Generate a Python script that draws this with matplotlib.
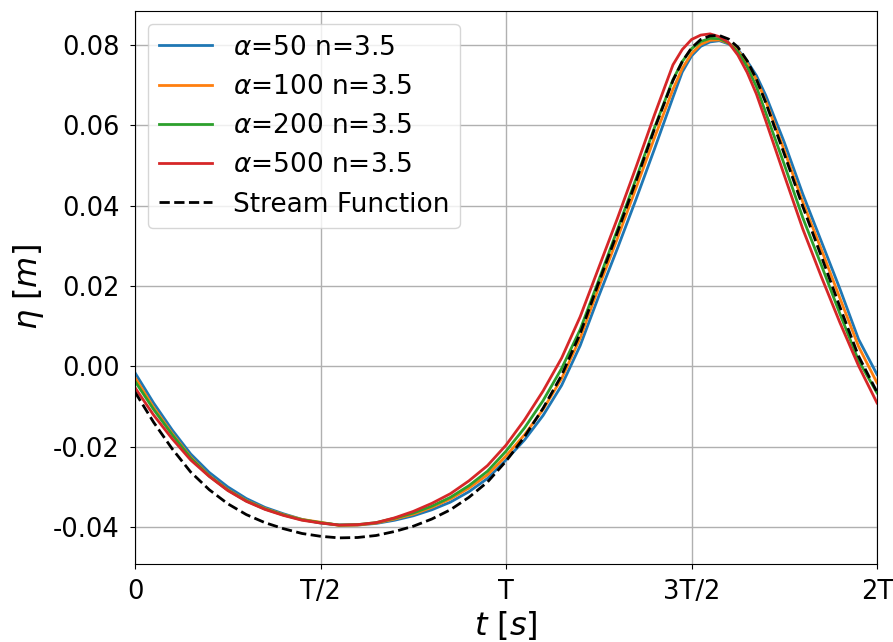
import matplotlib
matplotlib.use("Agg")
import matplotlib.pyplot as plt

plt.rcParams['axes.unicode_minus'] = False

t = [0.00, 0.05, 0.10, 0.15, 0.20, 0.25, 0.30, 0.35, 0.40, 0.45,
     0.50, 0.55, 0.60, 0.65, 0.70, 0.75, 0.80, 0.85, 0.90, 0.95,
     1.00, 1.05, 1.10, 1.15, 1.20, 1.25, 1.30, 1.35, 1.40, 1.45,
     1.475, 1.50, 1.525, 1.55, 1.575, 1.60, 1.625, 1.65, 1.675, 1.70,
     1.75, 1.80, 1.85, 1.90, 1.95, 2.00]

eta_a50 = [-0.0016, -0.0091, -0.0158, -0.0218, -0.0264, -0.0300, -0.0329, -0.0351, -0.0367, -0.0381,
           -0.0390, -0.0395, -0.0395, -0.0391, -0.0383, -0.0372, -0.0357, -0.0338, -0.0312, -0.0279,
           -0.0233, -0.0183, -0.0122, -0.0047, 0.0052, 0.0175, 0.0293, 0.0415, 0.0541, 0.0670,
           0.0733, 0.0773, 0.0797, 0.0808, 0.0811, 0.0803, 0.0789, 0.0760, 0.0724, 0.0675,
           0.0558, 0.0429, 0.0311, 0.0193, 0.0068, -0.0020]

eta_a100 = [-0.0028, -0.0102, -0.0167, -0.0226, -0.0272, -0.0307, -0.0334, -0.0354, -0.0369, -0.0381,
            -0.0388, -0.0396, -0.0395, -0.0390, -0.0380, -0.0368, -0.0351, -0.0330, -0.0303, -0.0270,
            -0.0223, -0.0170, -0.0107, -0.0030, 0.0071, 0.0197, 0.0318, 0.0443, 0.0569, 0.0690,
            0.0742, 0.0779, 0.0802, 0.0812, 0.0813, 0.0805, 0.0787, 0.0754, 0.0714, 0.0661,
            0.0538, 0.0409, 0.0291, 0.0170, 0.0050, -0.0041]

eta_a200 = [-0.0037, -0.0107, -0.0170, -0.0228, -0.0273, -0.0308, -0.0335, -0.0355, -0.0370, -0.0382,
            -0.0389, -0.0395, -0.0394, -0.0389, -0.0378, -0.0365, -0.0348, -0.0326, -0.0297, -0.0261,
            -0.0211, -0.0153, -0.0085, -0.0005, 0.0092, 0.0215, 0.0340, 0.0466, 0.0594, 0.0714,
            0.0759, 0.0791, 0.0809, 0.0817, 0.0816, 0.0805, 0.0783, 0.0746, 0.0696, 0.0632,
            0.0503, 0.0370, 0.0252, 0.0131, 0.0015, -0.0066]

eta_a500 = [-0.0053, -0.0121, -0.0180, -0.0233, -0.0274, -0.0309, -0.0336, -0.0356, -0.0371, -0.0383,
            -0.0390, -0.0395, -0.0394, -0.0389, -0.0377, -0.0361, -0.0341, -0.0317, -0.0285, -0.0247,
            -0.0196, -0.0133, -0.0061, 0.0021, 0.0124, 0.0246, 0.0368, 0.0495, 0.0626, 0.0751,
            0.0789, 0.0814, 0.0825, 0.0828, 0.0821, 0.0806, 0.0775, 0.0732, 0.0678, 0.0612,
            0.0476, 0.0342, 0.0223, 0.0109, 0.0002, -0.0091]

eta_stream = [-0.0064, -0.0139, -0.0205, -0.0263, -0.0307, -0.0342, -0.0369, -0.0389, -0.0404, -0.0416,
              -0.0423, -0.0427, -0.0426, -0.0421, -0.0411, -0.0398, -0.0380, -0.0357, -0.0326, -0.0288,
              -0.0236, -0.0175, -0.0104, -0.0022, 0.0082, 0.0209, 0.0333, 0.0460, 0.0591, 0.0712,
              0.0759, 0.0793, 0.0814, 0.0823, 0.0824, 0.0815, 0.0795, 0.0761, 0.0715, 0.0657,
              0.0529, 0.0398, 0.0274, 0.0148, 0.0026, -0.0064]

series = [
    (eta_a50, r'$\alpha$=50 n=3.5', '#1f77b4'),
    (eta_a100, r'$\alpha$=100 n=3.5', '#ff7f0e'),
    (eta_a200, r'$\alpha$=200 n=3.5', '#2ca02c'),
    (eta_a500, r'$\alpha$=500 n=3.5', '#d62728'),
]

xticks = [0, 0.5, 1.0, 1.5, 2.0]
xticklabels = ['0', 'T/2', 'T', '3T/2', '2T']
yticks = [-0.04, -0.02, 0.00, 0.02, 0.04, 0.06, 0.08]

fig = plt.figure(figsize=(8.93, 6.42), dpi=100)
ax = fig.add_axes([0.1512, 0.1215, 0.8309, 0.8614])

for vals, lab, col in series:
    ax.plot(t, vals, color=col, lw=2, label=lab)
ax.plot(t, eta_stream, color='black', lw=2, ls='--', label='Stream Function')

ax.set_xlim(0, 2)
ax.set_ylim(-0.0492, 0.0885)
ax.set_xticks(xticks)
ax.set_xticklabels(xticklabels)
ax.set_yticks(yticks)
ax.set_yticklabels(['%.2f' % v for v in yticks])
ax.tick_params(labelsize=18.5, pad=7.5)
ax.grid(True, color='#b0b0b0', lw=1)
ax.set_xlabel(r'$t$ $[s]$', fontsize=23, labelpad=3)
ax.set_ylabel(r'$\eta$ $[m]$', fontsize=23, labelpad=5)
ax.legend(loc='upper left', fontsize=19, handlelength=2, borderaxespad=0.5)

fig.savefig('out.png', dpi=100)
